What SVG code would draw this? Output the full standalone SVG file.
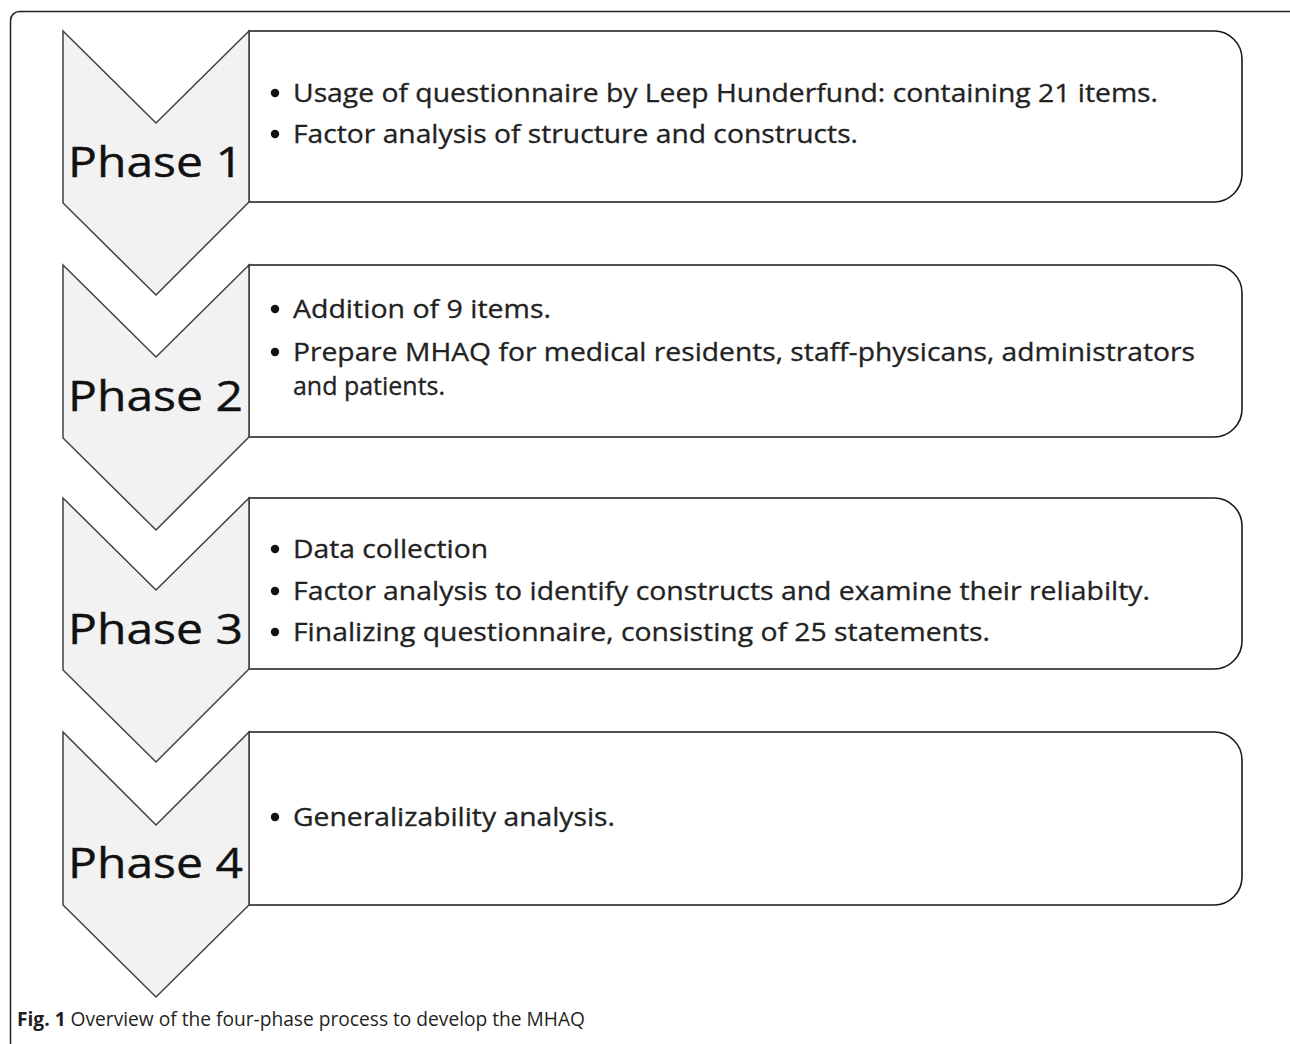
<svg xmlns="http://www.w3.org/2000/svg" width="1290" height="1044" viewBox="0 0 1290 1044">
<style>
.frame{fill:#fff;stroke:#222;stroke-width:1.5}
.chev{fill:#f2f2f2;stroke:#404040;stroke-width:1.5;stroke-linejoin:miter}
.box{fill:#fff;stroke:#1a1a1a;stroke-width:1.6}
.ph{font-family:"Open Sans","Liberation Sans",sans-serif;font-size:42px;fill:#111;stroke:#111;stroke-width:0.4}
.tx{font-family:"Open Sans","Liberation Sans",sans-serif;font-size:25px;fill:#222;stroke:#222;stroke-width:0.3}
.cap{font-family:"Open Sans","Liberation Sans",sans-serif;font-size:19.5px;fill:#231f20}
.b{fill:#111}
</style>
<rect class="frame" x="10.5" y="11.5" width="1290" height="1040" rx="9"/>
<g id="connectors"></g>
<g id="phase1">
<path class="box" d="M249,31 H1214 A28,28 0 0 1 1242,59 V174 A28,28 0 0 1 1214,202 H249 Z"/>
<path class="chev" d="M63,31 L156,123 L249,31 L249,202 L156,295 L63,203 Z"/>
<text class="ph" x="68" y="177" textLength="175" lengthAdjust="spacingAndGlyphs">Phase 1</text>
<circle class="b" cx="275" cy="93" r="4.2"/>
<text class="tx" x="293" y="102" textLength="865" lengthAdjust="spacingAndGlyphs">Usage of questionnaire by Leep Hunderfund: containing 21 items.</text>
<circle class="b" cx="275" cy="134" r="4.2"/>
<text class="tx" x="293" y="143" textLength="565" lengthAdjust="spacingAndGlyphs">Factor analysis of structure and constructs.</text>
</g>
<g id="phase2">
<path class="box" d="M249,265 H1214 A28,28 0 0 1 1242,293 V409 A28,28 0 0 1 1214,437 H249 Z"/>
<path class="chev" d="M63,265 L156,357 L249,265 L249,437 L156,530 L63,438 Z"/>
<text class="ph" x="68" y="411" textLength="175" lengthAdjust="spacingAndGlyphs">Phase 2</text>
<circle class="b" cx="275" cy="309" r="4.2"/>
<text class="tx" x="293" y="318" textLength="258" lengthAdjust="spacingAndGlyphs">Addition of 9 items.</text>
<circle class="b" cx="275" cy="352" r="4.2"/>
<text class="tx" x="293" y="361" textLength="902" lengthAdjust="spacingAndGlyphs">Prepare MHAQ for medical residents, staff-physicans, administrators</text>
<text class="tx" x="293" y="395" textLength="152" lengthAdjust="spacingAndGlyphs">and patients.</text>
</g>
<g id="phase3">
<path class="box" d="M249,498 H1214 A28,28 0 0 1 1242,526 V641 A28,28 0 0 1 1214,669 H249 Z"/>
<path class="chev" d="M63,498 L156,590 L249,498 L249,669 L156,762 L63,670 Z"/>
<text class="ph" x="68" y="644" textLength="175" lengthAdjust="spacingAndGlyphs">Phase 3</text>
<circle class="b" cx="275" cy="549" r="4.2"/>
<text class="tx" x="293" y="558" textLength="195" lengthAdjust="spacingAndGlyphs">Data collection</text>
<circle class="b" cx="275" cy="591" r="4.2"/>
<text class="tx" x="293" y="600" textLength="857" lengthAdjust="spacingAndGlyphs">Factor analysis to identify constructs and examine their reliabilty.</text>
<circle class="b" cx="275" cy="632" r="4.2"/>
<text class="tx" x="293" y="641" textLength="697" lengthAdjust="spacingAndGlyphs">Finalizing questionnaire, consisting of 25 statements.</text>
</g>
<g id="phase4">
<path class="box" d="M249,732 H1214 A28,28 0 0 1 1242,760 V877 A28,28 0 0 1 1214,905 H249 Z"/>
<path class="chev" d="M63,732 L156,825 L249,732 L249,905 L156,997 L63,905 Z"/>
<text class="ph" x="68" y="878" textLength="175" lengthAdjust="spacingAndGlyphs">Phase 4</text>
<circle class="b" cx="275" cy="817" r="4.2"/>
<text class="tx" x="293" y="826" textLength="322" lengthAdjust="spacingAndGlyphs">Generalizability analysis.</text>
</g>
<text class="cap" x="17" y="1026" textLength="568" lengthAdjust="spacingAndGlyphs"><tspan font-weight="bold">Fig. 1</tspan> Overview of the four-phase process to develop the MHAQ</text>
</svg>
